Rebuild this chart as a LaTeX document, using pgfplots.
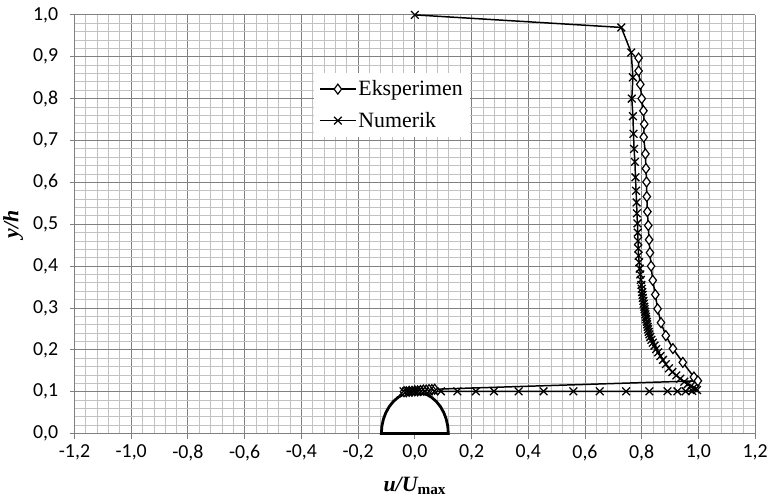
\documentclass[border=0pt]{standalone}
\usepackage{pgfplots}
\pgfplotsset{compat=1.18}
\usepackage{fontspec}
\setmainfont{Liberation Serif}
\newfontfamily\calib{Carlito}

\begin{document}
\begin{tikzpicture}
\begin{axis}[
  name=ax,
  scale only axis, width=686pt, height=422pt,
  xmin=-1.2, xmax=1.2, ymin=0, ymax=1,
  clip=false,
  xtick={-1.2,-1,-0.8,-0.6,-0.4,-0.2,0,0.2,0.4,0.6,0.8,1,1.2},
  ytick={0,0.1,0.2,0.3,0.4,0.5,0.6,0.7,0.8,0.9,1},
  minor x tick num=4, minor y tick num=4,
  grid=both,
  major grid style={draw=black!50, line width=0.9pt},
  minor grid style={draw=black!24, line width=0.75pt},
  axis x line=bottom, axis y line=left,
  axis line style={-, draw=black!50, line width=0.9pt},
  tick align=outside, major tick length=5pt, minor tick length=0pt,
  tick style={draw=black!50, line width=0.9pt},
  /pgf/number format/use comma,
  /pgf/number format/fixed,
  /pgf/number format/fixed zerofill,
  /pgf/number format/precision=1,
  /pgf/number format/assume math mode=true,
  ticklabel style={font=\calib\fontsize{20}{20}\selectfont},
  yticklabel style={xshift=-8pt},
  xticklabel style={yshift=-3pt},
  xlabel={\bfseries\itshape u/U\textsubscript{\upshape max}},
  ylabel={\bfseries\itshape y/h},
  label style={font=\fontsize{22}{24}\selectfont},
  xlabel style={at={(axis description cs:0.5,-0.125)}, anchor=center},
  ylabel style={at={(axis description cs:-0.09,0.5)}, anchor=center, rotate=0},
  legend style={at={(0.352,0.862)}, anchor=north west, draw=none, fill=white,
    font=\fontsize{22}{24}\selectfont, row sep=11pt, inner xsep=5pt, inner ysep=6pt},
  legend cell align=left,
  legend image code/.code={\draw[mark repeat=2,mark phase=2] plot coordinates {(0pt,0pt) (18pt,0pt) (36pt,0pt)};},
]

% cylinder cross-section on the channel floor
\addplot[fill=white, draw=black, line width=2.8pt, forget plot] coordinates {
  (0.118,0) (0.1162,0.0174) (0.1109,0.0342) (0.1022,0.05) (0.0904,0.0643)
  (0.0759,0.0766) (0.059,0.0866) (0.0404,0.094) (0.0205,0.0985) (0,0.1)
  (-0.0205,0.0985) (-0.0404,0.094) (-0.059,0.0866) (-0.0759,0.0766) (-0.0904,0.0643)
  (-0.1022,0.05) (-0.1109,0.0342) (-0.1162,0.0174) (-0.118,0)
} \closedcycle;

\addplot[black, line width=1.5pt, mark=diamond*, mark size=5pt,
  mark options={fill=white, line width=1.2pt, solid}] coordinates {
  (0.789,0.897) (0.789,0.866) (0.795,0.834) (0.800,0.800) (0.806,0.771)
  (0.809,0.739) (0.807,0.708) (0.813,0.668) (0.815,0.633) (0.817,0.601)
  (0.818,0.566) (0.820,0.530) (0.823,0.497) (0.826,0.463) (0.829,0.432)
  (0.833,0.400) (0.839,0.366) (0.848,0.332) (0.856,0.298) (0.868,0.265)
  (0.885,0.234) (0.910,0.203) (0.945,0.170) (0.984,0.135) (0.998,0.126)
  (0.07,0.106) (0.06,0.105) (0.05,0.105) (0.04,0.104) (0.03,0.104)
  (0.02,0.103) (0.01,0.102) (0.0,0.102) (-0.01,0.101) (-0.02,0.101)
  (-0.03,0.100) (-0.038,0.100)
};
\addlegendentry{Eksperimen}

\addplot[black, line width=1.5pt, mark=x, mark size=5.5pt,
  mark options={line width=1.3pt, solid}] coordinates {
  (0.0,1.0) (0.728,0.970) (0.763,0.910) (0.769,0.851) (0.765,0.800)
  (0.769,0.758) (0.771,0.716) (0.773,0.680) (0.776,0.649) (0.778,0.612)
  (0.780,0.580) (0.782,0.552) (0.783,0.526) (0.785,0.502) (0.786,0.480)
  (0.787,0.460) (0.788,0.442) (0.789,0.425) (0.791,0.409) (0.793,0.394)
  (0.795,0.380) (0.797,0.367) (0.799,0.355) (0.800,0.346) (0.802,0.338)
  (0.803,0.331) (0.804,0.324) (0.806,0.317) (0.807,0.310) (0.809,0.303)
  (0.810,0.297) (0.812,0.291) (0.813,0.285) (0.815,0.279) (0.816,0.273)
  (0.818,0.267) (0.819,0.261) (0.821,0.255) (0.823,0.249) (0.825,0.243)
  (0.827,0.237) (0.830,0.231) (0.834,0.224) (0.839,0.217) (0.845,0.210)
  (0.851,0.202) (0.858,0.194) (0.866,0.185) (0.875,0.176) (0.885,0.166)
  (0.896,0.156) (0.908,0.147) (0.922,0.139) (0.936,0.131) (0.950,0.124)
  (0.962,0.118) (0.973,0.113) (0.982,0.109) (0.990,0.106) (0.995,0.104)
  (0.978,0.102) (0.955,0.101) (0.926,0.101) (0.891,0.101) (0.827,0.101)
  (0.745,0.101) (0.652,0.101) (0.559,0.101) (0.454,0.101) (0.366,0.101)
  (0.279,0.101) (0.215,0.101) (0.150,0.101) (0.092,0.101) (0.069,0.101)
  (0.050,0.101) (0.035,0.101) (0.022,0.101) (0.012,0.101) (0.004,0.101)
  (-0.004,0.101) (-0.012,0.101) (-0.020,0.101) (-0.030,0.101) (-0.040,0.101)
};
\addlegendentry{Numerik}
\end{axis}
\path ([shift={(-74pt,-70pt)}]ax.south west) rectangle ([shift={(11pt,15pt)}]ax.north east);
\end{tikzpicture}
\end{document}
